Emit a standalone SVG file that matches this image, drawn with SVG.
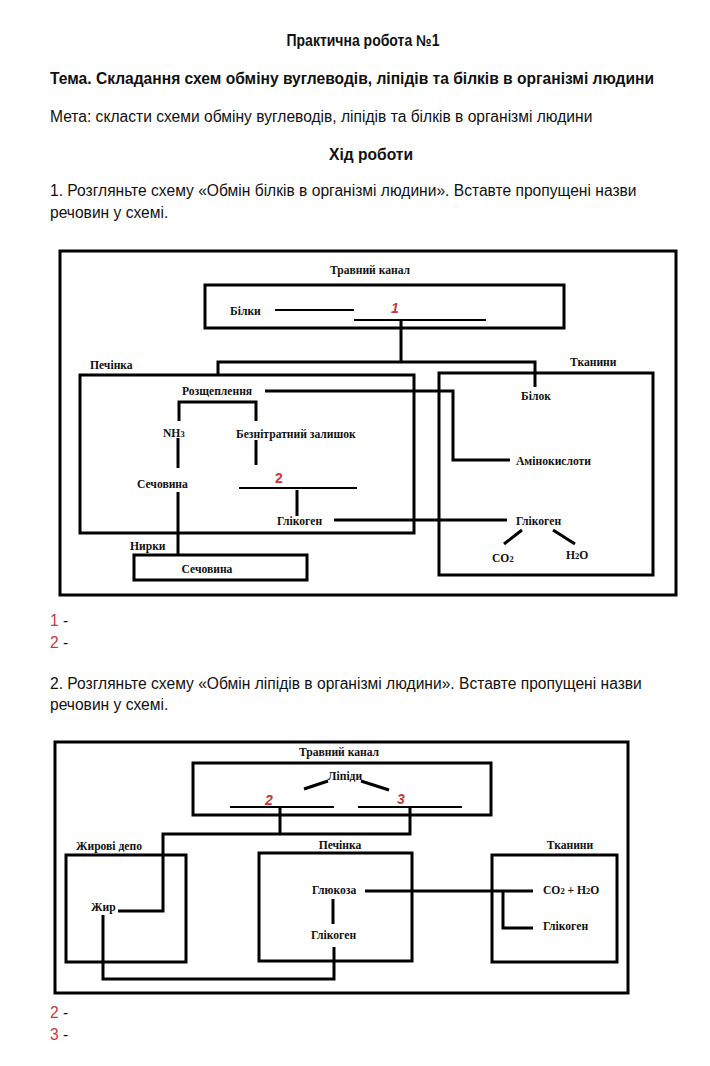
<svg xmlns="http://www.w3.org/2000/svg" width="710" height="1066" viewBox="0 0 710 1066">
<style>
.t{font-family:"Liberation Sans",Arial,sans-serif;font-size:15.6px;fill:#111}
.b{font-weight:bold}
.l{font-family:"Liberation Serif","Times New Roman",serif;font-size:11.6px;font-weight:bold;fill:#111}
.r{fill:#c8383c}
.n{font-family:"Liberation Sans",Arial,sans-serif;font-size:14px;font-weight:bold;fill:#c8383c}
.box{fill:none;stroke:#000;stroke-width:3}
.c{fill:none;stroke:#000;stroke-width:3}
.thin{fill:none;stroke:#000;stroke-width:1.8}
</style>
<rect width="710" height="1066" fill="#fff"/>
<g id="header">
<text class="t b" x="363" y="46" text-anchor="middle" textLength="153" lengthAdjust="spacingAndGlyphs">Практична робота №1</text>
<text class="t b" x="50" y="84">Тема. Складання схем обміну вуглеводів, ліпідів та білків в організмі людини</text>
<text class="t" x="50" y="122">Мета: скласти схеми обміну вуглеводів, ліпідів та білків в організмі людини</text>
<text class="t b" x="371" y="160" text-anchor="middle">Хід роботи</text>
<text class="t" x="50" y="196">1. Розгляньте схему «Обмін білків в організмі людини». Вставте пропущені назви</text>
<text class="t" x="50" y="218">речовин у схемі.</text>
</g>
<g id="diagram1">
<rect id="d1-frame" class="box" x="60" y="251" width="616" height="344"/>
<g id="d1-gut"><text class="l" x="370" y="274" text-anchor="middle">Травний канал</text><rect class="box" x="205" y="285" width="359" height="43"/></g>
<g id="d1-liver"><text class="l" x="90" y="369">Печінка</text><rect class="box" x="80" y="375" width="334" height="158"/></g>
<g id="d1-tissue"><text class="l" x="570" y="366">Тканини</text><rect class="box" x="439" y="373" width="214" height="202"/></g>
<g id="d1-kidney"><text class="l" x="130" y="550">Нирки</text><rect class="box" x="134" y="555" width="173" height="25"/><text class="l" x="207" y="573" text-anchor="middle">Сечовина</text></g>
<g id="d1-connectors">
<line class="thin" x1="275" y1="310" x2="354" y2="310"/>
<line class="thin" x1="354" y1="320" x2="486" y2="320"/>
<line class="c" x1="401" y1="320" x2="401" y2="362" stroke-width="4"/>
<polyline class="c" points="218,376 218,362 535,362 535,387"/>
<polyline class="c" points="265,391 453,391 453,460 510,460"/>
<polyline class="c" points="179,421 179,402 256,402 256,421"/>
<line class="c" x1="178" y1="438" x2="178" y2="468"/>
<line class="c" x1="178" y1="492" x2="178" y2="555"/>
<line class="c" x1="256" y1="440" x2="256" y2="465" stroke-width="3.5"/>
<line class="thin" x1="239" y1="488" x2="357" y2="488"/>
<line class="c" x1="297" y1="490" x2="297" y2="516"/>
<line class="c" x1="334" y1="520" x2="507" y2="520"/>
<line class="c" x1="522" y1="530" x2="504" y2="544"/>
<line class="c" x1="553" y1="530" x2="575" y2="544"/>
</g>
<g id="d1-labels">
<text class="l" x="230" y="315">Білки</text>
<text class="n" x="395" y="313" text-anchor="middle" font-style="italic">1</text>
<text class="l" x="536" y="400" text-anchor="middle">Білок</text>
<text class="l" x="182" y="395">Розщеплення</text>
<text class="l" x="163" y="437">NH<tspan font-size="8.5">3</tspan></text>
<text class="l" x="236" y="438">Безнітратний залишок</text>
<text class="l" x="516" y="465">Амінокислоти</text>
<text class="l" x="137" y="488">Сечовина</text>
<text class="n" x="279" y="483" text-anchor="middle">2</text>
<text class="l" x="277" y="525">Глікоген</text>
<text class="l" x="516" y="525">Глікоген</text>
<text class="l" x="492" y="562">CO<tspan font-size="8.5">2</tspan></text>
<text class="l" x="566" y="559">H<tspan font-size="8.5">2</tspan>O</text>
</g>
</g>
<g id="answers1">
<text class="t" x="50" y="626"><tspan class="r">1</tspan> -</text>
<text class="t" x="50" y="648"><tspan class="r">2</tspan> -</text>
</g>
<g id="task2">
<text class="t" x="50" y="689">2.  Розгляньте схему «Обмін ліпідів в організмі людини». Вставте пропущені назви</text>
<text class="t" x="50" y="710">речовин у схемі.</text>
</g>
<g id="diagram2">
<rect id="d2-frame" class="box" x="55" y="742" width="573" height="251"/>
<g id="d2-gut"><text class="l" x="339" y="756" text-anchor="middle">Травний канал</text><rect class="box" x="193" y="763" width="298" height="52"/><text class="l" x="345" y="780" text-anchor="middle">Ліпіди</text></g>
<g id="d2-depot"><text class="l" x="76" y="850">Жирові депо</text><rect class="box" x="66" y="855" width="120" height="107"/><text class="l" x="91" y="911">Жир</text></g>
<g id="d2-liver"><text class="l" x="340" y="849" text-anchor="middle">Печінка</text><rect class="box" x="259" y="853" width="153" height="108"/><text class="l" x="312" y="894">Глюкоза</text><text class="l" x="311" y="939">Глікоген</text></g>
<g id="d2-tissue"><text class="l" x="570" y="849" text-anchor="middle">Тканини</text><rect class="box" x="492" y="855" width="125" height="107"/><text class="l" x="543" y="894">CO<tspan font-size="8.5">2</tspan> + H<tspan font-size="8.5">2</tspan>O</text><text class="l" x="543" y="930">Глікоген</text></g>
<g id="d2-connectors">
<line class="c" x1="304" y1="789" x2="328" y2="781"/>
<line class="c" x1="361" y1="781" x2="389" y2="790"/>
<line class="thin" x1="230" y1="807" x2="334" y2="807"/>
<line class="thin" x1="358" y1="807" x2="462" y2="807"/>
<line class="c" x1="280" y1="807" x2="280" y2="834"/>
<polyline class="c" points="410,807 410,834 163,834 163,911 118,911"/>
<line class="c" x1="365" y1="891" x2="533" y2="891"/>
<polyline class="c" points="503,891 503,928 533,928"/>
<line class="c" x1="333" y1="899" x2="333" y2="924"/>
<polyline class="c" points="334,947 334,979 103,979 103,915"/>
</g>
<g id="d2-labels">
<text class="n" x="269" y="805" text-anchor="middle" font-style="italic">2</text>
<text class="n" x="401" y="804" text-anchor="middle" font-style="italic">3</text>
</g>
</g>
<g id="answers2">
<text class="t" x="50" y="1018"><tspan class="r">2</tspan> -</text>
<text class="t" x="50" y="1040"><tspan class="r">3</tspan> -</text>
</g>
</svg>
